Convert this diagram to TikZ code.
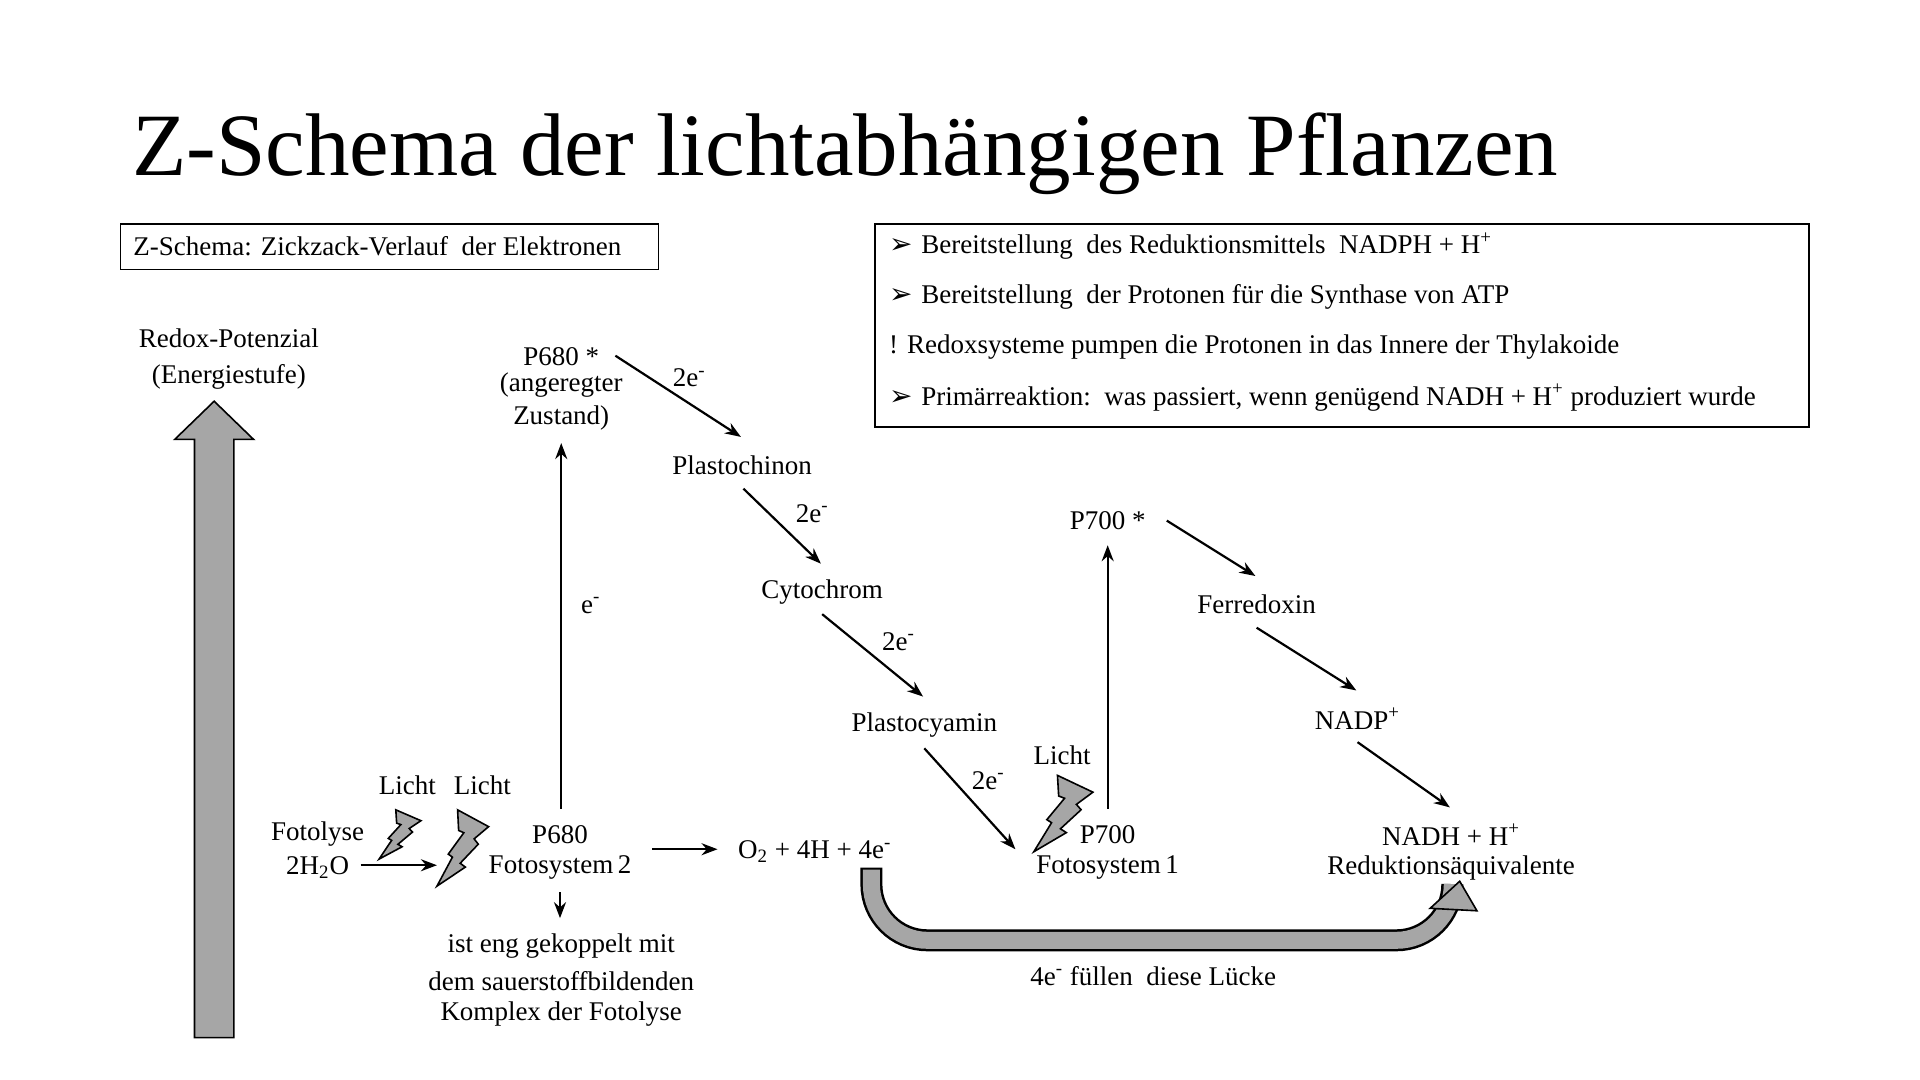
\documentclass[tikz,border=0pt]{standalone}
\usepackage{fontspec}
\setmainfont{Liberation Serif}
\usetikzlibrary{arrows.meta}
\newcommand\mybolt[4]{\begin{scope}[shift={(#1,#2)},xscale=#3,yscale=#4]
\draw[fill=gray!70,line width=0.8pt,line join=miter] (0.40,0)--(1,0.22)--(0.72,0.38)--(0.80,0.45)--(0.45,0.70)--(0.55,0.75)--(0,1)--(0.30,0.62)--(0.22,0.58)--(0.52,0.30)--(0.42,0.27)--cycle;
\end{scope}}
\begin{document}
\begin{tikzpicture}[x=0.6154pt,y=-0.6154pt,
  txt/.style={font=\fontsize{13.5}{14}\selectfont,inner sep=0pt},
  arr/.style={-{Stealth[length=8pt,width=6pt]},line width=1.1pt},
  bx/.style={draw,line width=0.8pt}]
\useasboundingbox (0,0) rectangle (1560,877);
\node[anchor=west,inner sep=0pt,font=\fontsize{44.5}{48}\selectfont] (title) at (107,125) {Z-Schema der lichtabhängigen Pflanzen};
\draw[bx] (98,182) rectangle (535,219);
\node[txt,anchor=west] (zs) at (108,200) {Z-Schema: Zickzack-Verlauf\ \ der Elektronen};
\draw[bx] (711,182) rectangle (1470,347);
\node[txt,anchor=west] (b1) at (722,200) {\fontspec{DejaVu Sans}\fontsize{14}{14}\selectfont ➢\ \rmfamily\fontsize{13.5}{14}\selectfont Bereitstellung\ \ des Reduktionsmittels\ \ NADPH + H\textsuperscript{+}};
\node[txt,anchor=west] (b2) at (722,241) {\fontspec{DejaVu Sans}\fontsize{14}{14}\selectfont ➢\ \rmfamily\fontsize{13.5}{14}\selectfont Bereitstellung\ \ der Protonen für die Synthase von ATP};
\node[txt,anchor=west] (b3) at (722,282) {! Redoxsysteme pumpen die Protonen in das Innere der Thylakoide};
\node[txt,anchor=west] (b4) at (722,323) {\fontspec{DejaVu Sans}\fontsize{14}{14}\selectfont ➢\ \rmfamily\fontsize{13.5}{14}\selectfont Primärreaktion:\ \ was passiert, wenn genügend NADH + H\textsuperscript{+} produziert wurde};
\node[txt,align=center] (redox) at (186,292) {Redox-Potenzial\\[4pt](Energiestufe)};
\draw[fill=gray!70,line width=0.8pt] (158,843)--(158,357)--(142,357)--(174,326)--(206,357)--(190,357)--(190,843)--cycle;
% PS2
\node[txt] (p680s) at (456,290) {P680 *};
\node[txt] (ang) at (456,313) {(angeregter};
\node[txt] (zus) at (456,340) {Zustand)};
\node[txt] (p680) at (455,678) {P680};
\node[txt] (fs2) at (455,705) {Fotosystem\,2};
\coordinate (a1) at (456,657); \coordinate (a2) at (456,360);
\draw[arr] (a1)--(a2);
\node[txt] (e1) at (480,492) {e\textsuperscript{-}};
\node[txt] (plc) at (603,378) {Plastochinon};
\node[txt] (cyt) at (668,481) {Cytochrom};
\node[txt] (pcy) at (751,589) {Plastocyamin};
\coordinate (c1) at (500,289); \coordinate (c2) at (602,355);
\draw[arr] (c1)--(c2); \node[txt] at (560,307) {2e\textsuperscript{-}};
\coordinate (c3) at (604,397); \coordinate (c4) at (667,458);
\draw[arr] (c3)--(c4); \node[txt] at (660,417) {2e\textsuperscript{-}};
\coordinate (c5) at (668,499); \coordinate (c6) at (750,566);
\draw[arr] (c5)--(c6); \node[txt] at (730,521) {2e\textsuperscript{-}};
\coordinate (c7) at (751,608); \coordinate (c8) at (825,690);
\draw[arr] (c7)--(c8); \node[txt] at (803,634) {2e\textsuperscript{-}};
% PS1
\node[txt] (l3) at (863,614) {Licht};
\mybolt{840}{630}{48}{62}
\node[txt] (p700) at (900,678) {P700};
\node[txt] (fs1) at (900,705) {Fotosystem\,1};
\coordinate (d1) at (900,657); \coordinate (d2) at (900,443);
\draw[arr] (d1)--(d2);
\node[txt] (p700s) at (900,423) {P700 *};
\node[txt] (fer) at (1021,491) {Ferredoxin};
\node[txt] (nadp) at (1103,584) {NADP\textsuperscript{+}};
\node[txt] (nadh) at (1179,678) {NADH + H\textsuperscript{+}};
\node[txt] (red) at (1179,705) {Reduktionsäquivalente};
\coordinate (f1) at (948,423); \coordinate (f2) at (1020,468); \draw[arr] (f1)--(f2);
\coordinate (f3) at (1021,510); \coordinate (f4) at (1102,561); \draw[arr] (f3)--(f4);
\coordinate (f5) at (1103,603); \coordinate (f6) at (1178,656); \draw[arr] (f5)--(f6);
% Fotolyse
\node[txt] (fot) at (258,678) {Fotolyse};
\node[txt] (h2o) at (258,705) {2H\textsubscript{2}O};
\coordinate (g1) at (293,703); \coordinate (g2) at (355,703); \draw[arr] (g1)--(g2);
\node[txt] (l1) at (331,638) {Licht};
\node[txt] (l2) at (392,638) {Licht};
\mybolt{308}{658}{34}{40}
\mybolt{355}{658}{42}{62}
\coordinate (h1) at (455,725); \coordinate (h2) at (455,746); \draw[arr] (h1)--(h2);
\node[txt] (k1) at (456,769) {ist eng gekoppelt mit};
\node[txt] (k2) at (456,797) {dem sauerstoffbildenden};
\node[txt] (k3) at (456,824) {Komplex der Fotolyse};
\coordinate (i1) at (530,690); \coordinate (i2) at (583,690); \draw[arr] (i1)--(i2);
\node[txt] (o2) at (662,692) {O\textsubscript{2} + 4H + 4e\textsuperscript{-}};
% U arrow
\draw[line width=11pt,rounded corners=28pt] (708,705)--(708,764)--(1180,764)--(1180,736);
\draw[gray!70,line width=8.5pt,rounded corners=28pt] (708,706.5)--(708,764)--(1180,764)--(1180,734);
\draw[fill=gray!70,line width=0.8pt] (1162,738)--(1186,716)--(1200,740)--cycle;
\node[txt] (luecke) at (937,793) {4e\textsuperscript{-} füllen\ \ diese Lücke};
\end{tikzpicture}
\end{document}
